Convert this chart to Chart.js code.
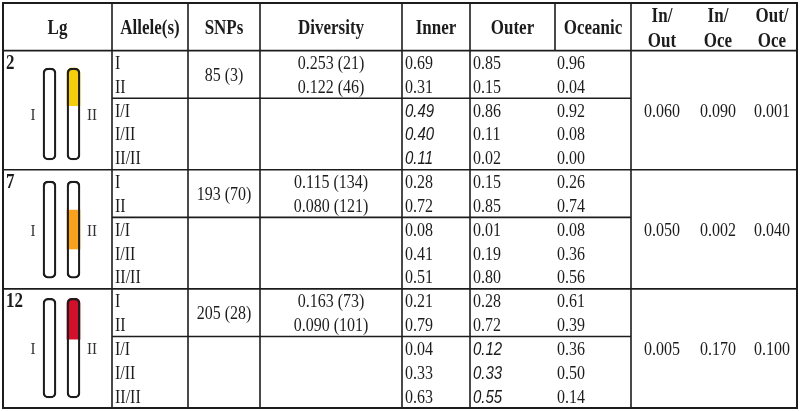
<!DOCTYPE html>
<html>
<head>
<meta charset="utf-8">
<script src="https://cdn.jsdelivr.net/npm/chart.js@4.4.0/dist/chart.umd.min.js"></script>
<style>
  html, body { margin: 0; padding: 0; background: #fff; }
  #tableChart { display: block; }
</style>
</head>
<body>
<canvas id="tableChart" width="800" height="411"></canvas>
<script>
// table content
const headerLabels = ['Lg', 'Allele(s)', 'SNPs', 'Diversity', 'Inner', 'Outer', 'Oceanic'];
const fstHeaders = [['In/', 'Out'], ['In/', 'Oce'], ['Out/', 'Oce']];
const linkageGroups = ['2', '7', '12'];
const alleleLabels = ['I', 'II'];
const genotypeLabels = ['I/I', 'I/II', 'II/II'];
const snpCounts = ['85 (3)', '193 (70)', '205 (28)'];
const diversityI = ['0.253 (21)', '0.115 (134)', '0.163 (73)'];
const diversityII = ['0.122 (46)', '0.080 (121)', '0.090 (101)'];
// per group: allele I, allele II, then genotypes I/I, I/II, II/II
const innerFreq = [[0.69, 0.31, 0.49, 0.40, 0.11], [0.28, 0.72, 0.08, 0.41, 0.51], [0.21, 0.79, 0.04, 0.33, 0.63]];
const outerFreq = [[0.85, 0.15, 0.86, 0.11, 0.02], [0.15, 0.85, 0.01, 0.19, 0.80], [0.28, 0.72, 0.12, 0.33, 0.55]];
const oceanicFreq = [[0.96, 0.04, 0.92, 0.08, 0.00], [0.26, 0.74, 0.08, 0.36, 0.56], [0.61, 0.39, 0.36, 0.50, 0.14]];
const fstInOut = [0.060, 0.050, 0.005];
const fstInOce = [0.090, 0.002, 0.170];
const fstOutOce = [0.001, 0.040, 0.100];
// inverted region on chromosome II, fraction of its length from the top
const invStart = [0.00, 0.30, 0.00];
const invEnd = [0.41, 0.70, 0.41];

// layout (x in pixels, y in table rows; header = rows -2..0)
const colEdges = [3, 112, 188, 260, 402, 470, 555, 631, 797];
const fstCenters = [662, 718, 772];
const ROWS = 5;
const chromTop = [0.73, 5.47, 10.4];
const chromBottom = [4.59, 9.55, 14.58];
const chromX = [49.5, 73.5];
const invColors = ['#f6cd0c', '#f8a11c', '#d2102c'];
const italicInner = [0];   // groups whose inner genotype freqs are italic
const italicOuter = [2];   // groups whose outer genotype freqs are italic
const INK = '#1c1c1c';
const SERIF = '"Liberation Serif", "Times New Roman", serif';
const SANS = '"Liberation Sans", Arial, sans-serif';
const TEXT_STRETCH = 1.18; // source glyphs are taller than wide

const chromBars = (xv) => linkageGroups.map((g, i) => ({ x: xv, y: [chromTop[i], chromBottom[i]] }));
const invBars = linkageGroups.map((g, i) => {
  const len = chromBottom[i] - chromTop[i];
  return { x: chromX[1], y: [chromTop[i] + invStart[i] * len, chromTop[i] + invEnd[i] * len] };
});

const tablePlugin = {
  id: 'tableGrid',
  beforeDatasetsDraw(chart) {
    const { ctx, scales: { x, y } } = chart;
    ctx.save();
    ctx.strokeStyle = INK;
    ctx.lineWidth = 1.6;
    const hLine = (row, x0, x1) => {
      ctx.beginPath();
      ctx.moveTo(x.getPixelForValue(x0), y.getPixelForValue(row));
      ctx.lineTo(x.getPixelForValue(x1), y.getPixelForValue(row));
      ctx.stroke();
    };
    const vLine = (xv, r0, r1) => {
      ctx.beginPath();
      ctx.moveTo(x.getPixelForValue(xv), y.getPixelForValue(r0));
      ctx.lineTo(x.getPixelForValue(xv), y.getPixelForValue(r1));
      ctx.stroke();
    };
    const last = linkageGroups.length * ROWS;
    [1, 2, 3, 4, 5, 7].forEach(c => vLine(colEdges[c], -2, last));
    vLine(colEdges[6], -2, 0);
    hLine(0, colEdges[0], colEdges[8]);
    linkageGroups.forEach((g, i) => {
      if (i > 0) hLine(i * ROWS, colEdges[0], colEdges[8]);
      hLine(i * ROWS + 2, colEdges[1], colEdges[7]);
    });
    ctx.lineWidth = 2;
    ctx.strokeRect(x.getPixelForValue(colEdges[0]), y.getPixelForValue(-2),
      x.getPixelForValue(colEdges[8]) - x.getPixelForValue(colEdges[0]),
      y.getPixelForValue(last) - y.getPixelForValue(-2));
    ctx.restore();
  },
  afterDatasetsDraw(chart) {
    const { ctx, scales: { x, y } } = chart;
    ctx.save();
    ctx.fillStyle = INK;
    ctx.textBaseline = 'middle';
    const text = (str, xv, row, align, font) => {
      ctx.save();
      ctx.font = font;
      ctx.textAlign = align;
      ctx.translate(x.getPixelForValue(xv), y.getPixelForValue(row) + 1.5);
      ctx.scale(1, TEXT_STRETCH);
      ctx.fillText(str, 0, 0);
      ctx.restore();
    };
    const mid = c => (colEdges[c] + colEdges[c + 1]) / 2;
    const bold = 'bold 17px ' + SERIF;
    const body = '16px ' + SERIF;
    const ital = 'italic 15px ' + SANS;

    headerLabels.forEach((h, c) => text(h, mid(c), -1, 'center', bold));
    fstHeaders.forEach((h, k) => {
      text(h[0], fstCenters[k], -1.5, 'center', bold);
      text(h[1], fstCenters[k], -0.45, 'center', bold);
    });

    linkageGroups.forEach((g, i) => {
      const base = i * ROWS;
      text(g, 6, base + 0.5, 'left', bold);
      const chromMid = (chromTop[i] + chromBottom[i]) / 2;
      ctx.fillStyle = '#333';
      text('I', 33, chromMid, 'center', '15px ' + SERIF);
      text('II', 92, chromMid, 'center', '15px ' + SERIF);
      ctx.fillStyle = INK;
      [...alleleLabels, ...genotypeLabels].forEach((lab, k) => text(lab, colEdges[1] + 3, base + k + 0.5, 'left', body));
      text(snpCounts[i], mid(2), base + 1, 'center', body);
      text(diversityI[i], mid(3), base + 0.5, 'center', body);
      text(diversityII[i], mid(3), base + 1.5, 'center', body);
      for (let k = 0; k < ROWS; k++) {
        const geno = k >= 2;
        text(innerFreq[i][k].toFixed(2), colEdges[4] + 3, base + k + 0.5, 'left',
          geno && italicInner.includes(i) ? ital : body);
        text(outerFreq[i][k].toFixed(2), colEdges[5] + 3, base + k + 0.5, 'left',
          geno && italicOuter.includes(i) ? ital : body);
        text(oceanicFreq[i][k].toFixed(2), colEdges[6] + 2, base + k + 0.5, 'left', body);
      }
      text(fstInOut[i].toFixed(3), fstCenters[0], base + 2.5, 'center', body);
      text(fstInOce[i].toFixed(3), fstCenters[1], base + 2.5, 'center', body);
      text(fstOutOce[i].toFixed(3), fstCenters[2], base + 2.5, 'center', body);
    });
    ctx.restore();
  }
};

new Chart(document.getElementById('tableChart'), {
  type: 'bar',
  data: {
    datasets: [
      {
        label: 'chromosome',
        data: [...chromBars(chromX[0]), ...chromBars(chromX[1])],
        backgroundColor: '#ffffff',
        borderWidth: 0,
        borderRadius: 5,
        borderSkipped: false,
        order: 3
      },
      {
        label: 'inversion',
        data: invBars,
        backgroundColor: invColors,
        borderWidth: 0,
        borderRadius: (c) => invStart[c.dataIndex] === 0 ? 5 : 0,
        borderSkipped: 'end',
        order: 2
      },
      {
        label: 'outline',
        data: [...chromBars(chromX[0]), ...chromBars(chromX[1])],
        backgroundColor: 'rgba(0,0,0,0)',
        borderColor: INK,
        borderWidth: 1.6,
        borderRadius: 5,
        borderSkipped: false,
        order: 1
      }
    ]
  },
  options: {
    responsive: false,
    animation: false,
    layout: { padding: { top: 3, bottom: 3, left: 0, right: 0 } },
    datasets: { bar: { barThickness: 13, grouped: false } },
    scales: {
      x: { type: 'linear', min: 0, max: 800, offset: false, display: false },
      y: { type: 'linear', min: -2, max: 15, reverse: true, offset: false, display: false }
    },
    plugins: { legend: { display: false }, tooltip: { enabled: false } }
  },
  plugins: [tablePlugin]
});
</script>
</body>
</html>
